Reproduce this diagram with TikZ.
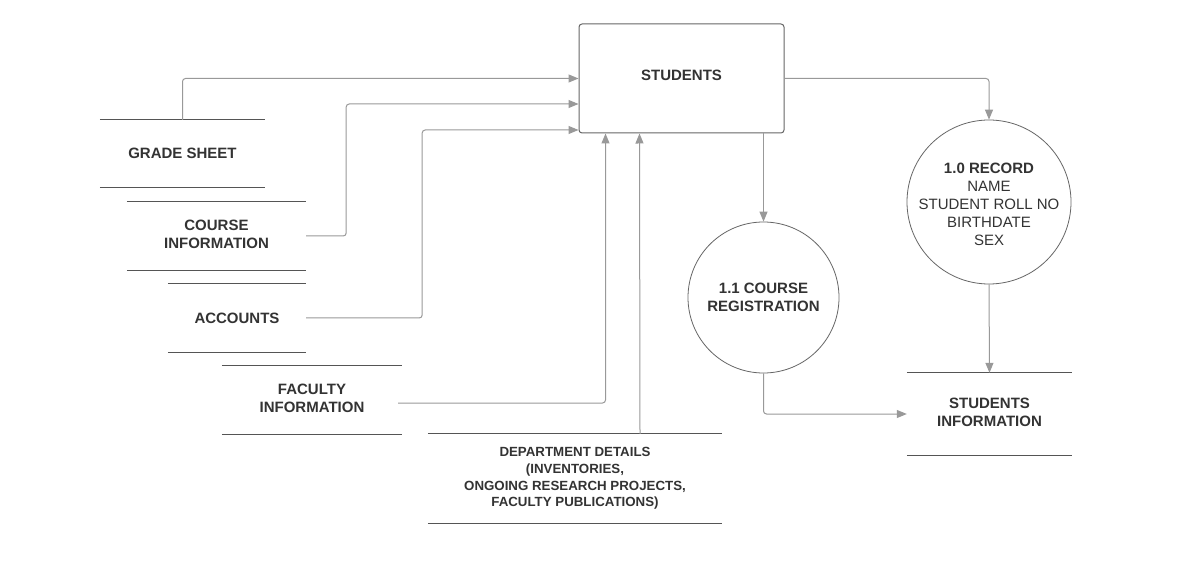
\documentclass[tikz,border=0pt]{standalone}
\usepackage{fontspec}
\setmainfont{Liberation Sans}
\usetikzlibrary{arrows.meta}
\definecolor{txt}{HTML}{333333}
\definecolor{conn}{HTML}{999999}
\definecolor{edge}{HTML}{666666}
\definecolor{storeln}{HTML}{555555}
\begin{document}
\begin{tikzpicture}[x=1pt,y=-1pt,
  lbl/.style={text=txt,font=\fontsize{15}{18}\selectfont\bfseries,align=center,inner sep=0pt},
  store/.style={lbl,minimum height=#1,draw=none},
  lift/.style={text depth=4pt},
  entity/.style={lbl,draw=edge,line width=1pt,rounded corners=3pt},
  proc/.style={text=txt,circle,draw=edge,line width=0.8pt,align=center,inner sep=0pt,font=\fontsize{15}{18}\selectfont},
  arr/.style={draw=conn,line width=1pt,rounded corners=3pt,-{Triangle[length=10pt,width=8pt,fill=conn]}},
  sline/.style={draw=storeln,line width=0.9pt}]
\useasboundingbox[fill=white] (0,0) rectangle (1181,577);

% entity
\node[entity,minimum width=205pt,minimum height=109pt] (st) at (681.5,78.5) {};
\node[lbl] (stl) at (681.5,75.5) {STUDENTS};

% data stores
\node[store=67pt,minimum width=165pt] (gs) at (182.5,153.5) {GRADE SHEET};
\node[store=68pt,minimum width=179pt,lift] (ci) at (216.5,236) {COURSE\\INFORMATION};
\node[store=68pt,minimum width=138pt] (acc) at (237,318) {ACCOUNTS};
\node[store=68pt,minimum width=180pt,lift] (fi) at (312,400) {FACULTY\\INFORMATION};
\node[store=89pt,minimum width=294pt,font=\fontsize{13.3}{16.7}\selectfont\bfseries] (dd) at (575,478.5) {DEPARTMENT DETAILS\\(INVENTORIES,\\ONGOING RESEARCH PROJECTS,\\FACULTY PUBLICATIONS)};
\node[store=82pt,minimum width=165pt,lift] (si) at (989.5,414) {STUDENTS\\INFORMATION};
\foreach \s in {gs,ci,acc,fi,dd,si}{
  \draw[sline] (\s.north west) -- (\s.north east);
  \draw[sline] (\s.south west) -- (\s.south east);
}

% processes
\node[proc,minimum size=151pt] (cr) at (763.5,297.5) {\textbf{1.1 COURSE}\\\textbf{REGISTRATION}};
\node[proc,minimum size=164pt] (rec) at (989,202) {};
\node[proc,draw=none] (recl) at (989,204) {\textbf{1.0 RECORD}\\NAME\\STUDENT ROLL NO\\BIRTHDATE\\SEX};

% connectors into STUDENTS
\draw[arr] (gs.north) |- (st.west);
\draw[arr] (ci.east) -- ++(40,0) |- ([yshift=-25.5pt]st.west);
\draw[arr] (acc.east) -- ++(116,0) |- ([yshift=-51.5pt]st.west);
\draw[arr] ([shift={(-4pt,-3pt)}]fi.east) -| ([xshift=27pt]st.south west);
\draw[arr] ([xshift=65pt]dd.north) -- ([xshift=61pt]st.south west);

% connectors out of STUDENTS
\draw[arr] (st.south -| cr.north) -- (cr.north);
\draw[arr] (st.east) -| (rec.north);
\draw[arr] (rec.south) -- (si.north);
\draw[arr] (cr.south) |- (si.west);
\end{tikzpicture}
\end{document}
